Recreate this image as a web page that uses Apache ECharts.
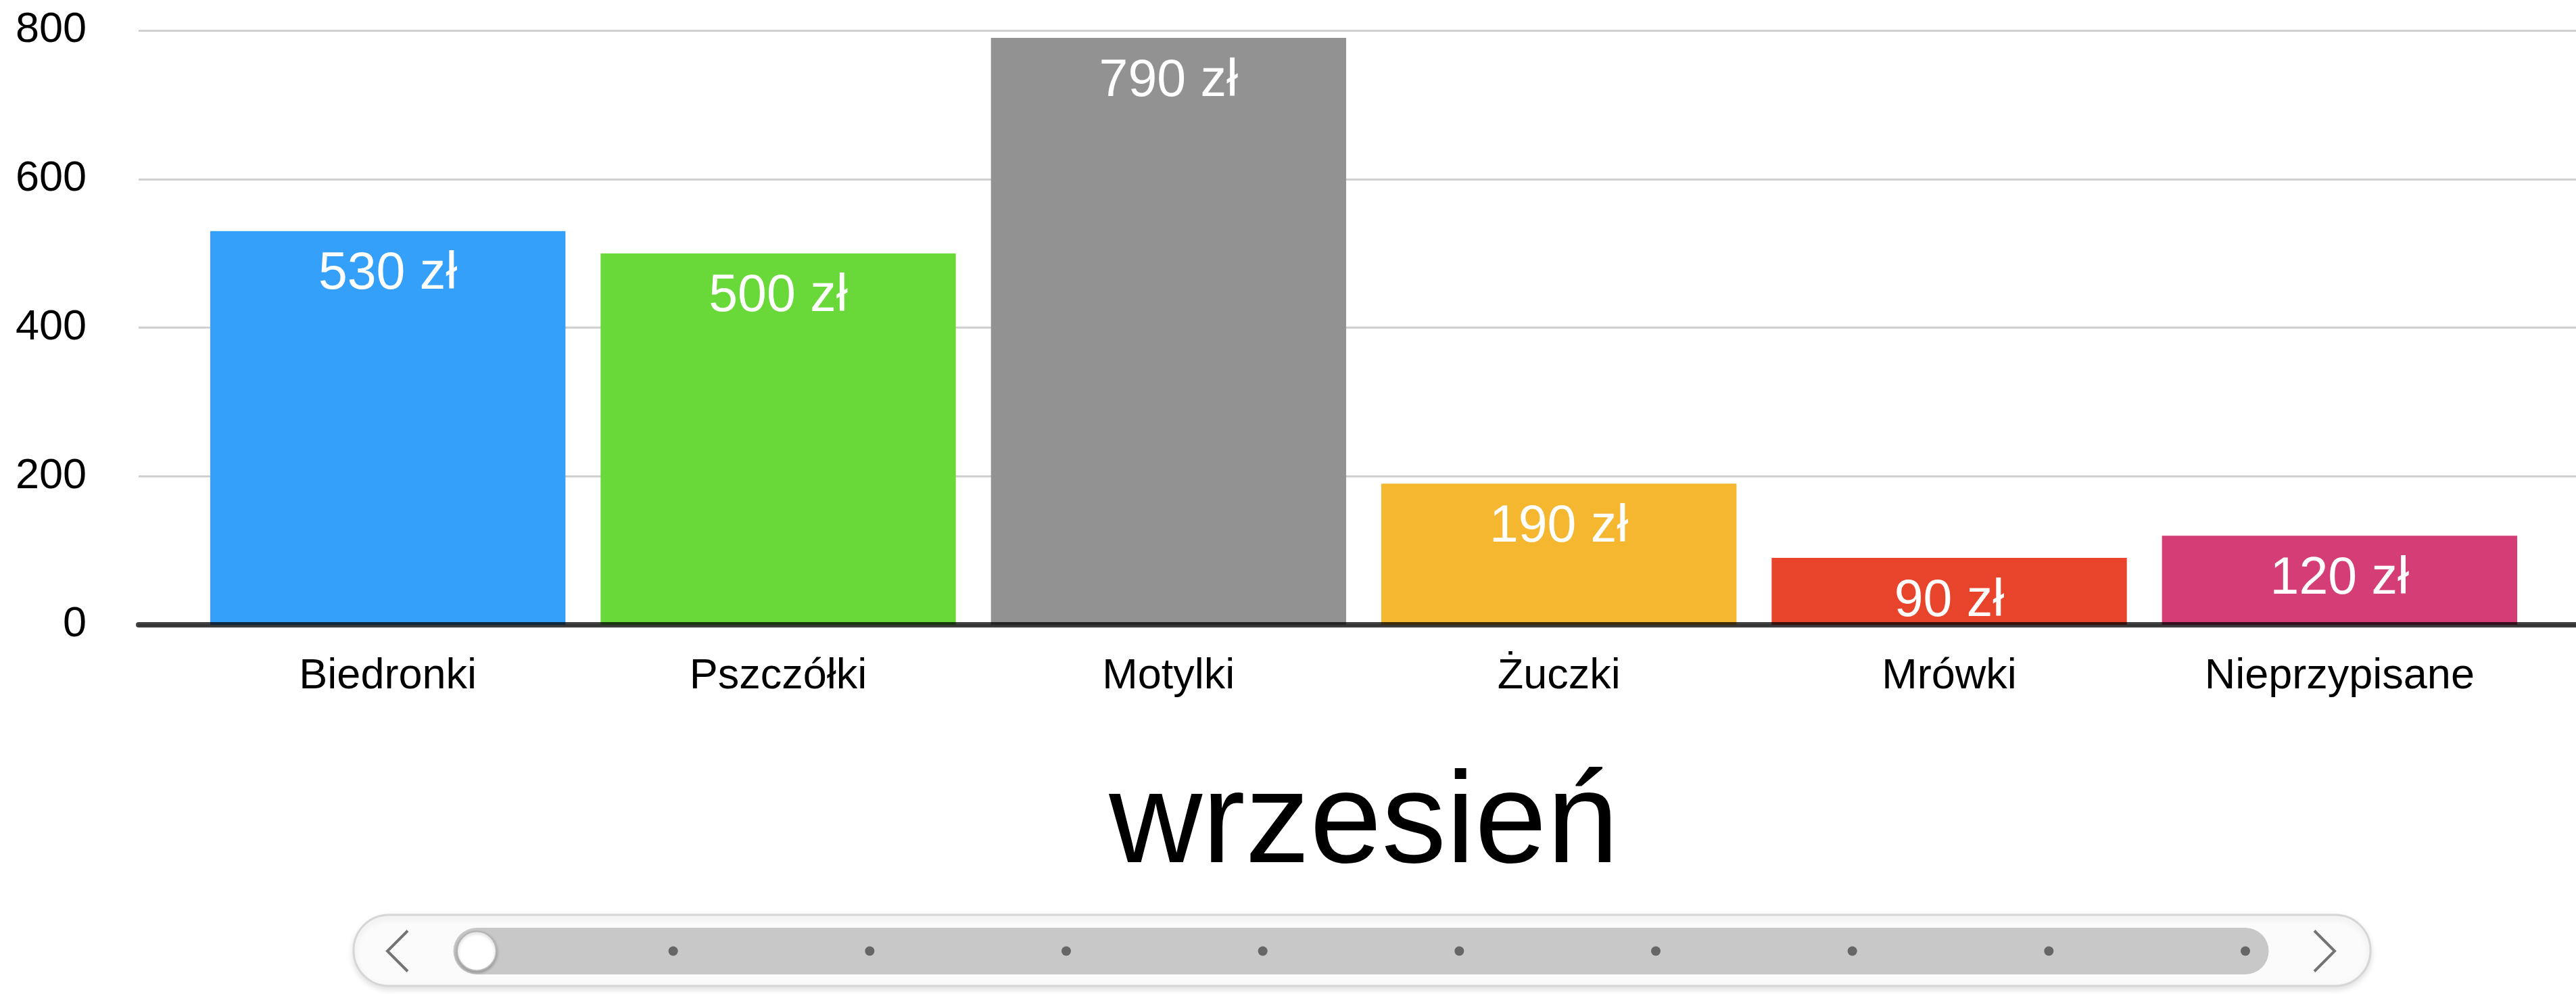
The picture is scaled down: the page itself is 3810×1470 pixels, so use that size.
<!DOCTYPE html>
<html>
<head>
<meta charset="utf-8">
<title>wrzesień</title>
<script src="https://cdn.jsdelivr.net/npm/echarts@6/dist/echarts.min.js"></script>
<style>
  html, body { margin: 0; padding: 0; background: #fff; }
  #main { width: 3810px; height: 1470px; }
</style>
</head>
<body>
<div id="main"></div>
<script>
var months = ["wrzesień", "październik", "listopad", "grudzień", "styczeń", "luty", "marzec", "kwiecień", "maj", "czerwiec"];
var categories = ["Biedronki", "Pszczółki", "Motylki", "Żuczki", "Mrówki", "Nieprzypisane"];
var septemberValues = [530, 500, 790, 190, 90, 120];
var barColors = ["#34a0fa", "#69d839", "#929292", "#f4b72f", "#e8432b", "#d43d75"];

var FONT = "Liberation Sans";

var chartDom = document.getElementById("main");
var myChart = echarts.init(chartDom);
var option;

option = {
  baseOption: {
    animation: false,
    textStyle: { fontFamily: FONT },
    timeline: {
      axisType: "category",
      data: months,
      currentIndex: 0,
      autoPlay: false,
      left: 558,
      width: 2910,
      bottom: 18,
      height: 80,
      padding: 0,
      symbol: "circle",
      symbolSize: 14,
      lineStyle: { color: "#c8c8c8", width: 69 },
      itemStyle: { color: "#666666", borderWidth: 0 },
      label: { show: false },
      checkpointStyle: {
        symbol: "circle",
        symbolSize: 58,
        color: "#ffffff",
        borderColor: "#b4b4b4",
        borderWidth: 2,
        shadowBlur: 4,
        shadowOffsetX: 0,
        shadowOffsetY: 2,
        shadowColor: "rgba(0,0,0,0.25)",
        animation: false
      },
      progress: {
        lineStyle: { color: "#c8c8c8" },
        itemStyle: { color: "#666666" }
      },
      controlStyle: {
        showPlayBtn: false,
        itemSize: 60,
        itemGap: 87,
        prevBtnSize: 60,
        nextBtnSize: 60,
        prevIcon: "path://M30,0 L0,30 L30,60",
        nextIcon: "path://M0,0 L30,30 L0,60",
        color: "rgba(0,0,0,0)",
        borderColor: "#747474",
        borderWidth: 4
      }
    },
    graphic: [
      {
        type: "rect",
        shape: { x: 523, y: 1353, width: 2983, height: 105, r: 52 },
        style: {
          fill: "#fbfbfb",
          stroke: "#d6d6d6",
          lineWidth: 3,
          shadowBlur: 10,
          shadowOffsetY: 4,
          shadowColor: "rgba(0,0,0,0.12)"
        },
        silent: true
      }
    ],
    title: {
      left: 2012,
      top: 1122,
      textAlign: "center",
      textStyle: { fontFamily: FONT, fontSize: 191, fontWeight: "normal", color: "#000" }
    },
    grid: [
      { left: 205, right: 0, top: 45, bottom: 546 },
      { left: 285, right: 61, top: 45, bottom: 546 }
    ],
    xAxis: [
      {
        gridIndex: 0,
        type: "category",
        data: categories,
        z: 5,
        axisLine: { lineStyle: { color: "rgba(0,0,0,0.75)", width: 8 } },
        axisTick: { show: false },
        axisLabel: { show: false }
      },
      {
        gridIndex: 1,
        type: "category",
        data: categories,
        axisLine: { show: false },
        axisTick: { show: false },
        axisLabel: { fontFamily: FONT, fontSize: 63, color: "#000", margin: 45 }
      }
    ],
    yAxis: [
      {
        gridIndex: 0,
        type: "value",
        min: 0,
        max: 800,
        interval: 200,
        axisLabel: { fontFamily: FONT, fontSize: 63, color: "#000", margin: 77 },
        splitLine: { lineStyle: { color: "#d0d0d0", width: 3 } }
      },
      {
        gridIndex: 1,
        type: "value",
        min: 0,
        max: 800,
        interval: 200,
        axisLabel: { show: false },
        splitLine: { show: false }
      }
    ],
    series: [
      {
        type: "bar",
        xAxisIndex: 1,
        yAxisIndex: 1,
        barCategoryGap: "9%",
        itemStyle: {
          color: function (params) {
            return barColors[params.dataIndex];
          }
        },
        label: {
          show: true,
          position: "insideTop",
          distance: 26,
          formatter: "{c} zł",
          color: "#fff",
          fontFamily: FONT,
          fontSize: 77
        }
      }
    ]
  },
  options: [
    {
      title: { text: months[0] },
      series: [{ data: septemberValues }]
    }
  ]
};

option && myChart.setOption(option);
</script>
</body>
</html>
